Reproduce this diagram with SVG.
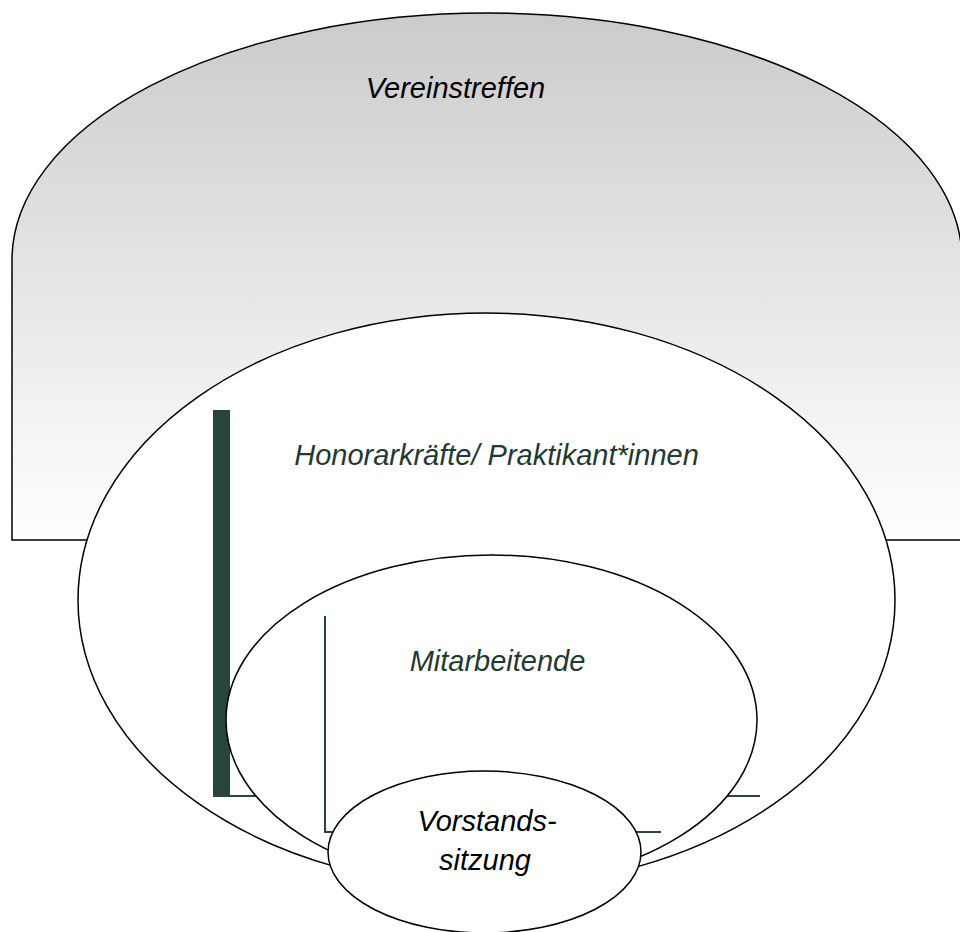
<svg xmlns="http://www.w3.org/2000/svg" width="960" height="932" viewBox="0 0 960 932">
  <defs>
    <linearGradient id="domeGrad" gradientUnits="userSpaceOnUse" x1="0" y1="13" x2="0" y2="540">
      <stop offset="0" stop-color="#cbcbcb"/>
      <stop offset="1" stop-color="#ffffff"/>
    </linearGradient>
    <style>
      .outline { stroke: #000000; stroke-width: 1.5; }
      .white { fill: #ffffff; }
      .lbl { font-family: "Liberation Sans", Arial, sans-serif; font-style: italic; font-size: 29px; text-anchor: middle; }
      .green { fill: #1f3a30; }
      .black { fill: #000000; }
      .bar { fill: #28453a; }
      .thin { fill: none; stroke: #28453a; stroke-width: 2; }
    </style>
  </defs>
  <rect x="0" y="0" width="960" height="932" fill="#ffffff"/>

  <g id="vereinstreffen">
    <path class="outline" fill="url(#domeGrad)" d="M12,540 V260 A475,247 0 0 1 962,260 V540 Z"/>
    <text class="lbl black" x="455.5" y="98">Vereinstreffen</text>
  </g>

  <g id="honorarkraefte">
    <ellipse class="outline white" cx="486.5" cy="600" rx="408.5" ry="287"/>
    <text class="lbl green" x="496.5" y="465">Honorarkräfte/ Praktikant*innen</text>
  </g>

  <g id="connectors">
    <rect class="bar" x="213" y="410" width="17" height="387"/>
    <path class="thin" d="M230,796 H760"/>
  </g>

  <g id="mitarbeitende">
    <ellipse class="outline white" cx="491.5" cy="720" rx="265.5" ry="165"/>
    <text class="lbl green" x="497.5" y="671">Mitarbeitende</text>
  </g>

  <g id="bracket2">
    <path class="thin" d="M325,616 V832 H661"/>
  </g>

  <g id="vorstandssitzung">
    <ellipse class="outline white" cx="484.5" cy="852" rx="156.5" ry="81"/>
    <text class="lbl black" x="487" y="831">Vorstands-</text>
    <text class="lbl black" x="485" y="870">sitzung</text>
  </g>
</svg>
